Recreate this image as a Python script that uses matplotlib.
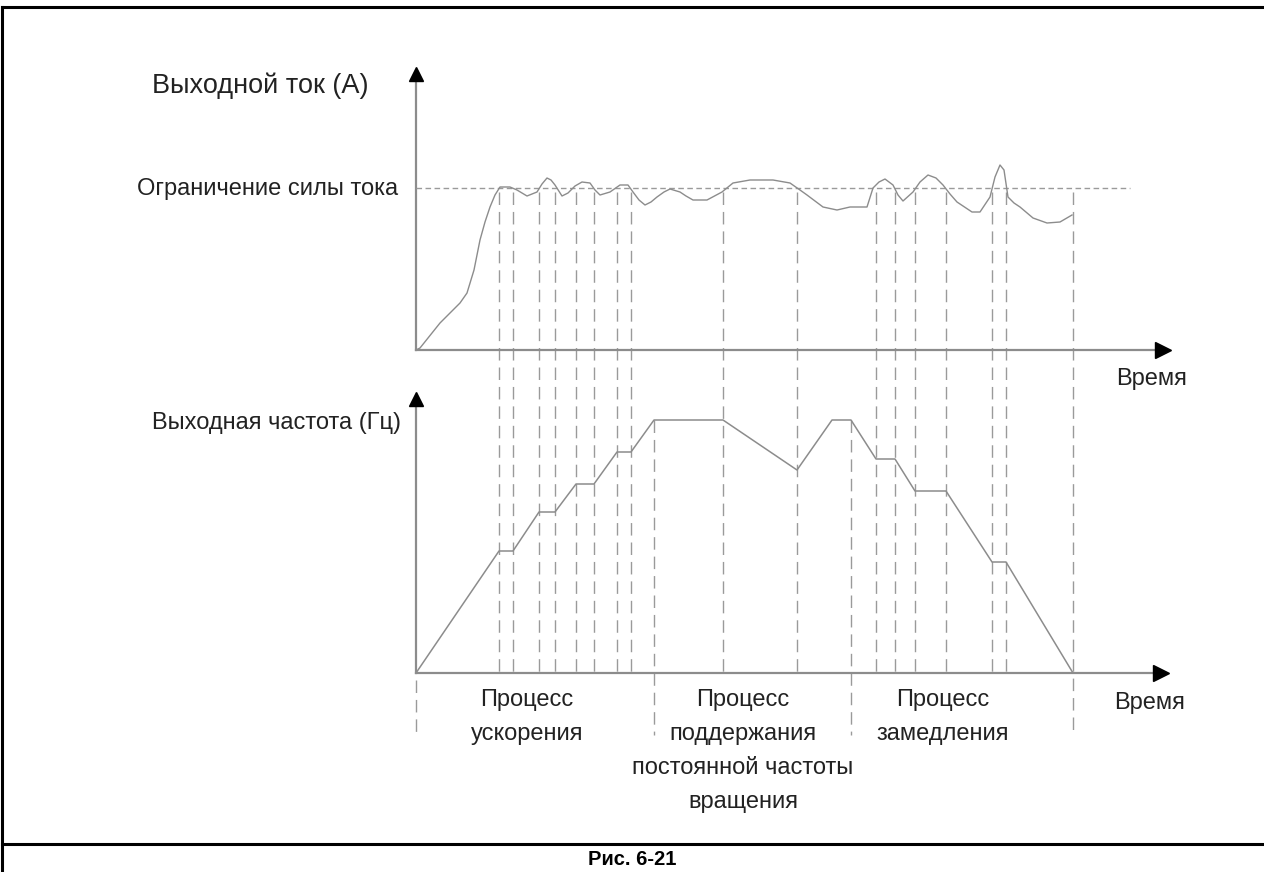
import matplotlib
matplotlib.use('Agg')
import matplotlib.pyplot as plt
from matplotlib.lines import Line2D

plt.rcParams['font.family'] = ['Liberation Sans', 'DejaVu Sans']

W, H = 1264, 872

# время событий (пунктирные вертикали), в условных единицах
event_times = [83, 97, 123, 139, 160, 178, 201, 215, 307, 381,
               460, 479, 499, 530, 576, 590, 657]
freq_only_times = [238, 435]

# выходная частота
freq_t = [0, 83, 97, 123, 139, 160, 178, 201, 215, 238, 307, 381,
          416, 435, 460, 479, 499, 530, 576, 590, 657]
freq_v = [0, 122, 122, 161, 161, 189, 189, 221, 221, 253, 253, 203,
          253, 253, 214, 214, 182, 182, 111, 111, 0]

# выходной ток
cur_t = [0, 4, 24, 44, 51, 58, 64, 69, 74, 79, 84, 94, 101, 111, 121, 126, 131,
         135, 139, 146, 152, 159, 166, 174, 179, 184, 194, 204, 212, 217, 223,
         229, 235, 241, 248, 254, 264, 270, 277, 291, 306, 317, 334, 357, 374,
         384, 391, 399, 407, 421, 434, 451, 457, 463, 469, 477, 482, 487, 497,
         504, 512, 520, 527, 534, 541, 556, 564, 574, 579, 584, 588, 592, 598,
         604, 617, 631, 644, 656]
cur_v = [0, 2, 27, 47, 57, 80, 110, 128, 143, 155, 163, 163, 160, 154, 158,
         166, 172, 170, 165, 154, 157, 164, 168, 167, 160, 155, 158, 165, 165,
         158, 150, 145, 148, 153, 158, 161, 158, 154, 150, 150, 158, 167, 170,
         170, 167, 160, 155, 149, 143, 140, 143, 143, 162, 168, 171, 165, 155,
         149, 158, 168, 175, 172, 165, 156, 148, 138, 138, 153, 173, 185, 180,
         153, 147, 143, 132, 127, 128, 135]
current_limit = 162
limit_end = 714
t_axis_end = 754

process_labels = ['Процесс\nускорения',
                  'Процесс\nподдержания\nпостоянной частоты\nвращения',
                  'Процесс\nзамедления']
process_x = [527, 743, 943]


def px(x, y):
    return x / W, 1 - y / H


fig = plt.figure(figsize=(W / 100, H / 100), dpi=100)
fig.patch.set_facecolor('white')

ax_i = fig.add_axes([0, 0, 1, 1])
ax_f = fig.add_axes([0, 0, 1, 1])
ax_i.set_xlim(-416, W - 416)
ax_i.set_ylim(350 - H, 350)
ax_f.set_xlim(-416, W - 416)
ax_f.set_ylim(673 - H, 673)
for a in (ax_i, ax_f):
    a.axis('off')
    a.patch.set_alpha(0)

grey = '#8c8c8c'
dash_grey = '#9a9a9a'

# пунктирные вертикали
for t in event_times:
    ax_i.plot([t, t], [158, -323 + (0 if t != 657 else -62)],
              color=dash_grey, lw=1.0, dashes=(9, 5))
for t in freq_only_times:
    ax_f.plot([t, t], [253, -62], color=dash_grey, lw=1.0, dashes=(9, 5))
ax_f.plot([0, 0], [-7, -62], color=dash_grey, lw=1.0, dashes=(9, 5))

# оси
ax_i.plot([0, 0], [0, 270], color=grey, lw=1.6)
ax_i.plot([0, t_axis_end - 8], [0, 0], color=grey, lw=1.6)
ax_i.plot([0], [276], marker='^', color='black', markersize=10)
ax_i.plot([t_axis_end - 7], [0], marker='>', color='black', markersize=11)
ax_f.plot([0, 0], [0, 268], color=grey, lw=1.6)
ax_f.plot([0, t_axis_end - 10], [0, 0], color=grey, lw=1.6)
ax_f.plot([0], [274], marker='^', color='black', markersize=10)
ax_f.plot([t_axis_end - 9], [0], marker='>', color='black', markersize=11)

# ограничение тока
ax_i.plot([0, limit_end], [current_limit, current_limit],
          color=dash_grey, lw=1.0, dashes=(4, 2.5))

# кривые
ax_i.plot(cur_t, cur_v, color=grey, lw=1.0)
ax_f.plot(freq_t, freq_v, color=grey, lw=1.1)

txt = '#222222'
fig.text(*px(152, 86), 'Выходной ток (A)', fontsize=19.5, color=txt,
         ha='left', va='center')
fig.text(*px(398, 189), 'Ограничение силы тока', fontsize=17, color=txt,
         ha='right', va='center')
fig.text(*px(401, 423), 'Выходная частота (Гц)', fontsize=17, color=txt,
         ha='right', va='center')
fig.text(*px(1152, 379), 'Время', fontsize=17, color=txt,
         ha='center', va='center')
fig.text(*px(1150, 703), 'Время', fontsize=17, color=txt,
         ha='center', va='center')
for lbl, x in zip(process_labels, process_x):
    fig.text(*px(x, 689), lbl, fontsize=17, color=txt, ha='center',
             va='top', linespacing=1.7)

fig.text(*px(632, 859), 'Рис. 6-21', fontsize=14.5, fontweight='bold',
         color='black', ha='center', va='center')

# рамка
fig.add_artist(Line2D([2 / W, 2 / W], [0, 1 - 7 / H], color='black', lw=2.2))
fig.add_artist(Line2D([2 / W, 1], [1 - 7 / H, 1 - 7 / H], color='black', lw=2.2))
fig.add_artist(Line2D([2 / W, 1], [1 - 844 / H, 1 - 844 / H], color='black', lw=2.2))

fig.savefig('out.png', dpi=100, facecolor='white')
